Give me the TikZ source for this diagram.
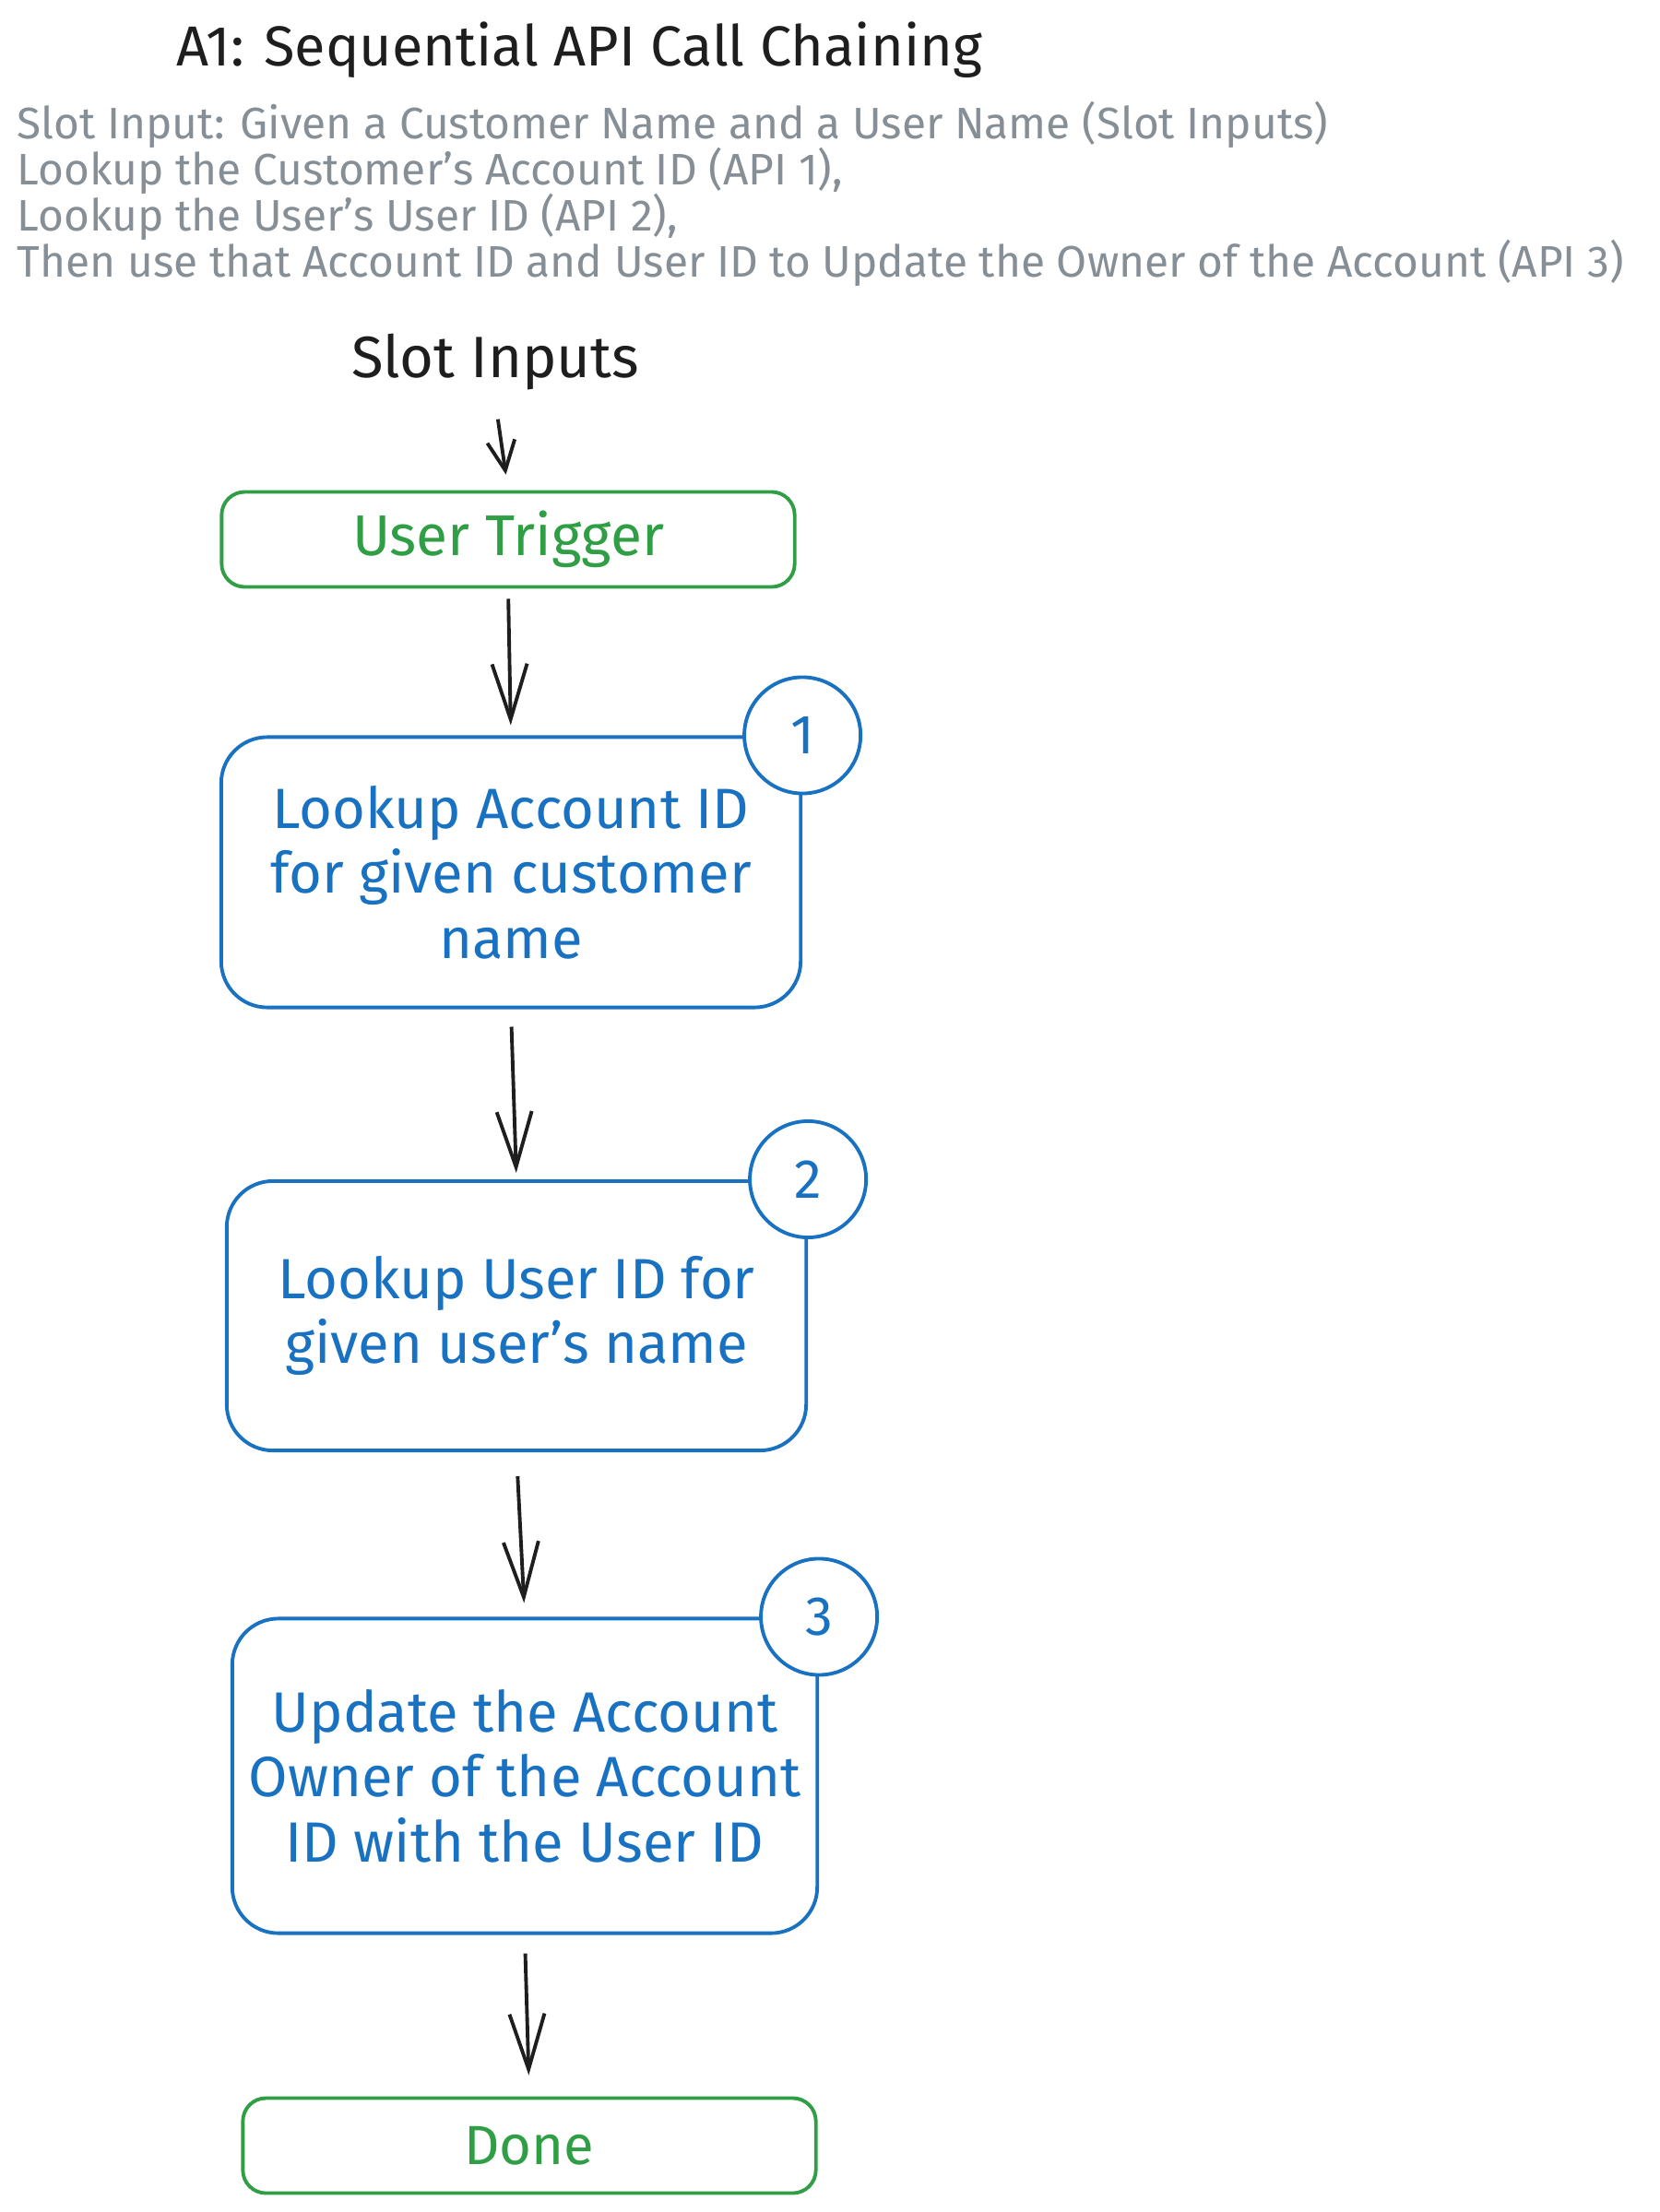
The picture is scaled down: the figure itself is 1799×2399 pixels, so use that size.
\documentclass[tikz,border=0pt]{standalone}
\usepackage{fontspec}
\setmainfont{Fira Sans}
\usetikzlibrary{arrows.meta}

\definecolor{stepblue}{HTML}{1971C2}
\definecolor{endgreen}{HTML}{2F9E44}
\definecolor{notegray}{HTML}{868E96}
\definecolor{inkblack}{HTML}{1E1E1E}

\tikzset{
  endbox/.style={draw=endgreen, text=endgreen, rounded corners=0.25cm, line width=1.1pt,
    minimum width=6.21cm, minimum height=1.03cm, font=\fontsize{17}{20}\selectfont},
  stepbox/.style={draw=stepblue, text=stepblue, rounded corners=0.5cm, line width=1.1pt,
    minimum width=6.28cm, align=center, font=\fontsize{17.5}{20}\selectfont},
  badge/.style={circle, draw=stepblue, text=stepblue, fill=white, line width=1.1pt,
    minimum size=1.26cm, inner sep=0pt, font=\fontsize{17}{20}\selectfont},
  flow/.style={draw=inkblack, line width=1.1pt, -{Straight Barb[length=0.6cm, width=0.38cm]}}
}

\begin{document}
\begin{tikzpicture}[x=0.01cm, y=-0.01cm]
\useasboundingbox[fill=white] (0,0) rectangle (1799,2399);

% Heading and notes
\node[anchor=west, text=inkblack, inner sep=0pt, font=\fontsize{17.4}{21}\selectfont] (title) at (191,54) {A1: Sequential API Call Chaining};
\node[anchor=west, text=notegray, inner sep=0pt, align=left,
      font={\fontsize{13.6}{14.2}\selectfont\lineskiplimit=-10pt}] (notes) at (18,210)
  {Slot Input: Given a Customer Name and a User Name (Slot Inputs)\\
   Lookup the Customer's Account ID (API 1),\\
   Lookup the User's User ID (API 2),\\
   Then use that Account ID and User ID to Update the Owner of the Account (API 3)};
\node[text=inkblack, font=\fontsize{18}{20}\selectfont] (slot) at (537,392) {Slot Inputs};

% Flow boxes
\node[endbox, font=\fontsize{17.7}{20}\selectfont] (trigger) at (551,585) {User Trigger};
\node[stepbox, minimum height=2.93cm] (lookacct) at (554,946) {Lookup Account ID\\for given customer\\name};
\node[stepbox, minimum height=2.92cm] (lookuser) at (560,1427) {Lookup User ID for\\given user's name};
\node[stepbox, minimum width=6.34cm, minimum height=3.41cm] (update) at (569,1926) {Update the Account\\Owner of the Account\\ID with the User ID};
\node[endbox] (done) at (574,2327) {Done};

% Step numbers on the corners
\foreach \step/\num in {lookacct/1, lookuser/2, update/3} {
    \node[badge] (badge\num) at (\step.north east) {\num};
}

% Arrows between the boxes
\foreach \source/\dest/\gapa/\gapb in {trigger/lookacct/0.11/0.11, lookacct/lookuser/0.19/0.07,
    lookuser/update/0.26/0.15, update/done/0.2/0.23} {
    \draw[flow, shorten <=\gapa cm, shorten >=\gapb cm] (\source.south) -- (\dest.north);
}
\draw[flow, -{Straight Barb[length=0.32cm, width=0.3cm]}, shorten <=0.2cm, shorten >=0.17cm] (slot.south) -- (trigger.north);

\end{tikzpicture}
\end{document}
